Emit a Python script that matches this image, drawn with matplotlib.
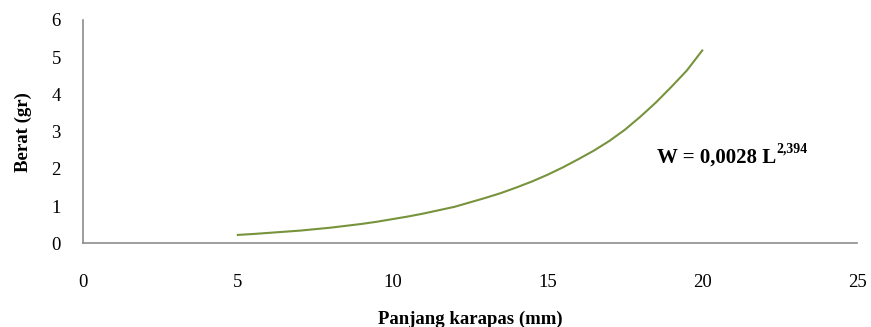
import matplotlib
matplotlib.use("Agg")
import matplotlib.pyplot as plt

# carapace length (mm) and weight (gr)
panjang = [5, 5.5, 6, 6.5, 7, 7.5, 8, 8.5, 9, 9.5, 10, 10.5, 11, 11.5,
           12, 12.5, 13, 13.5, 14, 14.5, 15, 15.5, 16, 16.5, 17, 17.5,
           18, 18.5, 19, 19.5, 20]
berat = [0.225, 0.25, 0.28, 0.31, 0.34, 0.38, 0.42, 0.47, 0.52, 0.58,
         0.65, 0.72, 0.80, 0.89, 0.98, 1.10, 1.22, 1.35, 1.50, 1.66,
         1.84, 2.04, 2.26, 2.49, 2.75, 3.05, 3.40, 3.78, 4.20, 4.64, 5.18]
x_ticks = [0, 5, 10, 15, 20, 25]
y_ticks = [0, 1, 2, 3, 4, 5, 6]

plt.rcParams['font.family'] = ['Liberation Serif', 'DejaVu Serif']

fig = plt.figure(figsize=(8.71, 3.27), dpi=100)
ax = fig.add_axes([0.0953, 0.256, 0.8887, 0.683])

ax.plot(panjang, berat, color='#77933C', linewidth=1.5)

ax.set_xlim(0, 25)
ax.set_ylim(0, 6)
ax.set_xticks(x_ticks)
ax.set_yticks(y_ticks)
ax.tick_params(axis='both', length=0, labelsize=13.5)
ax.tick_params(axis='x', pad=22)
ax.tick_params(axis='y', pad=16)

for side in ['top', 'right']:
    ax.spines[side].set_visible(False)
for side in ['left', 'bottom']:
    ax.spines[side].set_color('#8c8c8c')
    ax.spines[side].set_linewidth(1.2)

ax.set_xlabel('Panjang karapas (mm)', fontsize=13.5, fontweight='bold', labelpad=14)
ax.set_ylabel('Berat (gr)', fontsize=13.5, fontweight='bold', labelpad=14)

# equation label, superscript placed right after the main text
eq = ax.text(18.55, 2.3, 'W = 0,0028 L', fontsize=15, fontweight='bold',
             ha='left', va='center')
ax.annotate('2,394', xy=(1.0, 0.62), xycoords=eq, fontsize=10,
            fontweight='bold', ha='left', va='bottom')

fig.savefig('out.png', dpi=100)
